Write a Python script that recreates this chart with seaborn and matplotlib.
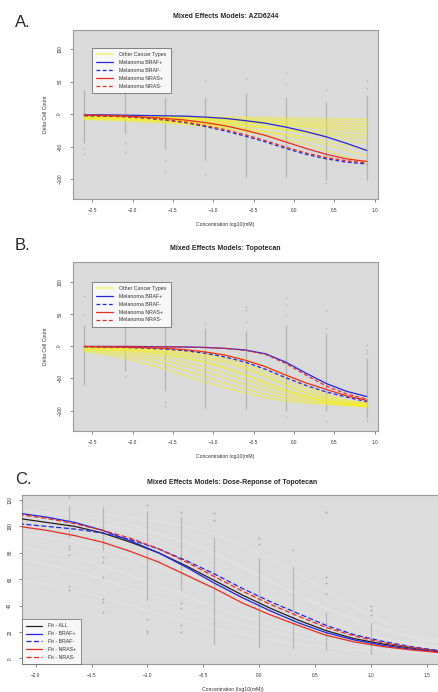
import numpy as np
import pandas as pd
import seaborn as sns
import matplotlib.pyplot as plt
from matplotlib.lines import Line2D

sns.set_style("white")
plt.rcParams['font.family'] = ['Liberation Sans', 'DejaVu Sans']

# ---------------- panel A / B : Delta cell count ----------------
grid_ab = [-2.6, -2.35, -2.1, -1.85, -1.6, -1.35, -1.1, -0.85, -0.6, -0.35, -0.1, 0.15, 0.4, 0.65, 0.9]
doses_ab = [-2.6, -2.1, -1.6, -1.1, -0.6, -0.1, 0.4, 0.9]

# A. AZD6244
braf_pos_a = [-1, -1, -1.5, -2, -2.5, -3, -4.5, -6.5, -10, -14, -20, -27, -35, -45, -56]
braf_neg_a = [-2.5, -3, -4, -6, -9, -13, -19, -26, -34, -43, -53, -62, -69, -74, -77]
nras_pos_a = [-1.5, -2, -3, -4.5, -6.5, -9, -13, -18, -25, -33, -43, -53, -62, -69, -73]
nras_neg_a = [-2, -2.5, -3.5, -5.5, -8.5, -12, -17.5, -24, -32, -41, -51, -60, -67, -72, -75]
other_a = [
    [-1, -1.5, -2, -2.5, -3, -3.5, -4, -4.5, -5, -5.5, -6, -6.5, -7, -7.5, -8],
    [-2, -2.5, -3, -3.5, -4, -5, -5.5, -6.5, -7, -8, -9, -9.5, -10.5, -11, -12],
    [-3, -3.5, -4, -5, -5.5, -6.5, -7.5, -8.5, -9.5, -11, -12, -13, -14, -15, -16],
    [-1, -2, -3, -4, -5, -6, -7, -8.5, -10, -11.5, -13, -15, -17, -18.5, -20],
    [-4, -5, -6, -7, -8, -9, -10, -11.5, -13, -14.5, -16, -18, -20, -22, -24],
    [-2, -3, -4, -5, -6, -7.5, -9, -11, -13, -15, -17.5, -20, -23, -25.5, -28],
    [-5, -6, -7, -8, -9.5, -11, -12.5, -14.5, -16.5, -19, -21.5, -24.5, -27.5, -30.5, -33],
    [-6, -7, -8, -9, -10.5, -12, -14, -16, -18.5, -21, -24, -27.5, -31, -34.5, -38],
    [-3, -4, -5, -6.5, -8, -10, -12, -14.5, -17.5, -21, -25, -29.5, -34.5, -40, -45],
    [-8, -9, -10, -11.5, -13, -15, -17, -20, -23, -27, -31, -36, -42, -48.5, -55],
    [-4, -5, -6.5, -8, -10, -12.5, -15, -18.5, -22.5, -27.5, -33, -40, -47, -56, -65],
    [-7, -8, -9.5, -11, -13, -15.5, -18.5, -22, -27, -32.5, -39, -47, -56, -66, -75],
]
strip_lo_a = [-45, -30, -53, -71, -97, -97, -102, -102]
strip_hi_a = [37, 37, 27, 27, 32, 27, 19, 29]
pts_x_a = [-2.6, -2.6, -2.1, -2.1, -1.6, -1.6, -1.6, -1.1, -1.1, -0.6, -0.1, -0.1, 0.4, 0.4, 0.9, 0.9]
pts_y_a = [-52, -61, -45, -58, 45, -70, -87, 52, -92, 55, 63, 47, 38, -106, 52, 40]

# B. Topotecan
braf_pos_b = [-0.5, -0.5, -0.5, -0.7, -1, -1.3, -2, -3.5, -6, -12, -25, -42, -58, -70, -78]
braf_neg_b = [-1, -1.5, -2, -3, -4.5, -7, -11, -17, -25, -36, -49, -61, -71, -79, -86]
nras_pos_b = [-0.5, -1, -1.5, -2.2, -3.3, -5.5, -9, -14, -22, -32, -45, -57, -67, -77, -84]
nras_neg_b = [-0.5, -0.5, -0.5, -0.7, -1, -1.3, -2, -3.5, -6.5, -13, -27, -45, -62, -74, -82]
other_b = [
    [-1, -1.5, -2, -3, -4, -6, -9, -14, -21, -32, -46, -62, -75, -84, -89],
    [-2, -3, -4, -6, -8, -11, -16, -23, -33, -46, -60, -72, -81, -87, -90],
    [-3, -5, -7, -10, -14, -19, -26, -35, -46, -58, -69, -78, -85, -89, -91],
    [-4, -6, -9, -13, -18, -25, -33, -43, -53, -63, -72, -80, -86, -90, -92],
    [-5, -8, -12, -17, -23, -31, -40, -50, -60, -69, -77, -83, -87, -90, -92],
    [-6, -10, -15, -21, -29, -38, -48, -58, -67, -75, -81, -86, -89, -91, -93],
    [-2, -3, -5, -7, -10, -14, -19, -26, -36, -48, -61, -73, -82, -88, -91],
    [-8, -13, -19, -27, -36, -46, -56, -65, -73, -80, -85, -88, -90, -92, -94],
    [-1, -2, -3, -4, -6, -9, -13, -19, -28, -40, -54, -67, -78, -85, -88],
    [-3, -4, -6, -8, -12, -17, -24, -33, -44, -56, -68, -78, -85, -90, -93],
]
strip_lo_b = [-60, -39, -70, -96, -98, -101, -101, -111]
strip_hi_b = [33, 38, 33, 28, 23, 33, 20, -19]
pts_x_b = [-2.6, -2.6, -2.1, -1.6, -1.6, -1.1, -0.6, -0.6, -0.6, -0.1, -0.1, -0.1, -0.1,
           0.4, 0.4, 0.4, 0.9, 0.9, 0.9, 0.9]
pts_y_b = [77, 49, -47, -86, -93, 34, 61, 56, 38, 74, 64, 49, -109, 54, 28, -116, 2, -6, -11, -116]

# ---------------- panel C : dose response ----------------
grid_c = [-2.15, -1.9, -1.65, -1.4, -1.15, -0.9, -0.65, -0.4, -0.15, 0.1, 0.35, 0.6, 0.85, 1.1, 1.35, 1.6]
doses_c = [-1.7, -1.4, -1.0, -0.7, -0.4, 0.0, 0.3, 0.6, 1.0]
fit_all = [106, 103, 100, 95, 88, 80, 70, 59, 48, 38, 29, 21, 15, 11, 8, 5.5]
fit_braf_pos = [110, 107, 103, 97, 89, 80, 69, 57, 46, 36, 27, 19.5, 14, 10, 7, 5]
fit_braf_neg = [102, 100, 98, 95, 90, 83, 74, 64, 53, 43, 34, 25, 18, 13, 9, 6]
fit_nras_pos = [100, 97, 93, 88, 81, 73, 63, 53, 42, 33, 25, 17.5, 12.5, 9, 6.5, 4.5]
fit_nras_neg = [109, 106, 102, 97, 91, 83, 73, 62, 51, 41, 32, 23.5, 17, 12, 8.5, 5.5]
other_c = [
    [112, 111, 110, 109, 107, 104, 100, 94, 86, 76, 64, 51, 39, 28, 20, 14],
    [110, 108, 105, 101, 96, 89, 80, 70, 59, 48, 38, 29, 21, 15, 11, 8],
    [108, 105, 101, 95, 87, 77, 66, 55, 44, 34, 26, 19, 14, 10, 7, 5],
    [95, 92, 88, 83, 77, 69, 60, 51, 42, 34, 27, 21, 16, 12, 9, 7],
    [75, 71, 66, 60, 53, 46, 39, 32, 26, 21, 16, 12, 9, 7, 5, 4],
    [60, 56, 51, 46, 40, 34, 28, 23, 18, 14, 11, 8, 6, 5, 4, 3],
    [105, 104, 103, 101, 98, 94, 88, 80, 70, 59, 48, 38, 29, 22, 16, 12],
    [112, 110, 108, 105, 101, 95, 88, 79, 69, 58, 48, 38, 30, 23, 17, 13],
    [100, 97, 93, 88, 82, 74, 65, 56, 47, 38, 31, 24, 19, 15, 12, 9],
    [85, 81, 76, 70, 63, 55, 47, 39, 32, 26, 20, 16, 12, 9, 7, 5],
]
strip_lo_c = [92, 82, 44, 52, 11, 9, 8, 6, 3]
strip_hi_c = [116, 115, 112, 107, 92, 77, 69, 35, 27]
pts_x_c = [-1.7, -1.7, -1.7, -1.7, -1.7, -1.7, -1.4, -1.4, -1.4, -1.4, -1.4, -1.4,
           -1.0, -1.0, -1.0, -1.0, -0.7, -0.7, -0.7, -0.7, -0.7, -0.4, -0.4,
           0.0, 0.0, 0.3, 0.6, 0.6, 0.6, 0.6, 1.0, 1.0, 1.0]
pts_y_c = [122, 85, 83, 78, 55, 52, 77, 73, 62, 45, 43, 35,
           116, 30, 21, 19, 111, 42, 38, 25, 20, 110, 105,
           91, 87, 82, 111, 62, 57, 49, 40, 37, 33]

BLUE = '#2424e0'
RED = '#ec2a1f'
PT = '#b2b2b2'
TXT = '#333333'


def long_frame(grid, curves):
    rows = []
    for i, c in enumerate(curves):
        for xv, yv in zip(grid, c):
            rows.append((i, xv, yv))
    return pd.DataFrame(rows, columns=['curve', 'x', 'y'])


def style_axes(ax, face):
    ax.set_facecolor(face)
    for s in ax.spines.values():
        s.set_color('#9a9a9a')
        s.set_linewidth(0.8)
    ax.tick_params(axis='both', which='both', bottom=True, left=True, length=2.2, width=0.5,
                   color='#555555', labelsize=3.4, labelcolor=TXT)
    for lab in ax.get_yticklabels():
        lab.set_rotation(90)
        lab.set_va('center')


def delta_panel(ax, title, other, curves, strip_lo, strip_hi, px, py, leg_y):
    ax.vlines(doses_ab, strip_lo, strip_hi, color=PT, lw=0.9, zorder=1)
    sns.scatterplot(x=px, y=py, ax=ax, color=PT, s=1.3, linewidth=0, zorder=1)
    sns.lineplot(data=long_frame(grid_ab, other), x='x', y='y', units='curve', estimator=None,
                 ax=ax, color='#f5f020', alpha=0.45, lw=1.3, zorder=2)
    for yv, col, ls in curves:
        sns.lineplot(x=grid_ab, y=yv, ax=ax, color=col, lw=0.9, zorder=3, linestyle=ls)
    ax.set_xlim(-2.74, 1.04)
    ax.set_ylim(-131, 130)
    ax.set_xticks([-2.5, -2.0, -1.5, -1.0, -0.5, 0.0, 0.5, 1.0])
    ax.set_yticks([-100, -50, 0, 50, 100])
    ax.set_xlabel('Concentration log10(mM)', fontsize=3.7, color=TXT, labelpad=6.5)
    ax.set_ylabel('Delta Cell Count', fontsize=3.7, color=TXT, labelpad=6.5)
    ax.set_title(title, fontsize=5.0, fontweight='bold', pad=8.5)
    style_axes(ax, '#dadada')
    ax.tick_params(axis='x', pad=4.2)
    ax.tick_params(axis='y', pad=5.5)
    handles = [Line2D([], [], color='#f5f020', alpha=0.5, lw=1.3)]
    handles += [Line2D([], [], color=c, lw=0.9, linestyle=ls) for _, c, ls in curves]
    labels = ['Other Cancer Types', 'Melanoma BRAF+', 'Melanoma BRAF-',
              'Melanoma NRAS+', 'Melanoma NRAS-']
    leg = ax.legend(handles, labels, loc='upper left', bbox_to_anchor=(0.061, leg_y),
                    borderaxespad=0, fontsize=3.8, frameon=True, fancybox=False,
                    handlelength=3.2, labelspacing=0.55, borderpad=0.8, handletextpad=1.2)
    leg.get_frame().set_edgecolor('#333333')
    leg.get_frame().set_linewidth(0.5)
    for t in leg.get_texts():
        t.set_color(TXT)


fig = plt.figure(figsize=(4.39, 6.92), dpi=100)
ax_a = fig.add_axes([0.1663, 0.7124, 0.6948, 0.2442])
ax_b = fig.add_axes([0.1663, 0.3776, 0.6948, 0.2434])
ax_c = fig.add_axes([0.0494, 0.0400, 0.9597, 0.2447])

delta_panel(ax_a, 'Mixed Effects Models: AZD6244', other_a,
            [(braf_pos_a, BLUE, '-'), (braf_neg_a, BLUE, (0, (3, 2))),
             (nras_pos_a, RED, '-'), (nras_neg_a, RED, (0, (3, 2)))],
            strip_lo_a, strip_hi_a, pts_x_a, pts_y_a, 0.893)
delta_panel(ax_b, 'Mixed Effects Models: Topotecan', other_b,
            [(braf_pos_b, BLUE, '-'), (braf_neg_b, BLUE, (0, (3, 2))),
             (nras_pos_b, RED, '-'), (nras_neg_b, RED, (0, (3, 2)))],
            strip_lo_b, strip_hi_b, pts_x_b, pts_y_b, 0.885)

# panel C
ax = ax_c
sns.lineplot(data=long_frame(grid_c, other_c), x='x', y='y', units='curve', estimator=None,
             ax=ax, color='white', alpha=0.14, lw=0.9, zorder=1)
ax.vlines(doses_c, strip_lo_c, strip_hi_c, color='#a0a0a0', lw=0.9,
          linestyles=(0, (1, 0.6)), zorder=2)
sns.scatterplot(x=pts_x_c, y=pts_y_c, ax=ax, color='#a0a0a0', s=1.5, linewidth=0, zorder=2)
fits_c = [(fit_all, '#202020', '-', 'Fit - ALL'),
          (fit_braf_pos, BLUE, '-', 'Fit - BRAF+'),
          (fit_braf_neg, BLUE, (0, (4, 2)), 'Fit - BRAF-'),
          (fit_nras_pos, RED, '-', 'Fit - NRAS+'),
          (fit_nras_neg, RED, (0, (4, 2)), 'Fit - NRAS-')]
for yv, col, ls, lab in fits_c:
    sns.lineplot(x=grid_c, y=yv, ax=ax, color=col, lw=0.9, linestyle=ls, zorder=3)
ax.set_xlim(-2.125, 1.646)
ax.set_ylim(-4.5, 123.8)
ax.set_xticks([-2.0, -1.5, -1.0, -0.5, 0.0, 0.5, 1.0, 1.5])
ax.set_yticks([0, 20, 40, 60, 80, 100, 120])
ax.set_xlabel('Concentration (log10(mM))', fontsize=3.7, color=TXT, labelpad=6)
ax.set_ylabel('')
ax.set_title('Mixed Effects Models: Dose-Reponse of Topotecan', fontsize=5.0,
             fontweight='bold', pad=8)
style_axes(ax, '#dcdcdc')
ax.tick_params(axis='x', pad=4.2)
ax.tick_params(axis='y', pad=4.5)
handles = [Line2D([], [], color=c, lw=0.9, linestyle=ls) for _, c, ls, _ in fits_c]
leg = ax.legend(handles, [f[3] for f in fits_c], loc='lower left', borderaxespad=0,
                fontsize=3.8, frameon=True, fancybox=False, handlelength=3.0,
                labelspacing=0.55, borderpad=0.8, handletextpad=1.2)
leg.get_frame().set_edgecolor('#444444')
leg.get_frame().set_linewidth(0.5)
for t in leg.get_texts():
    t.set_color(TXT)

fig.text(15 / 439, 1 - 22.7 / 692, 'A.', fontsize=12, va='center', ha='left')
fig.text(15 / 439, 1 - 246 / 692, 'B.', fontsize=12, va='center', ha='left')
fig.text(15 / 439, 1 - 479 / 692, 'C.', fontsize=12, va='center', ha='left')

fig.savefig('out.png', dpi=100)
